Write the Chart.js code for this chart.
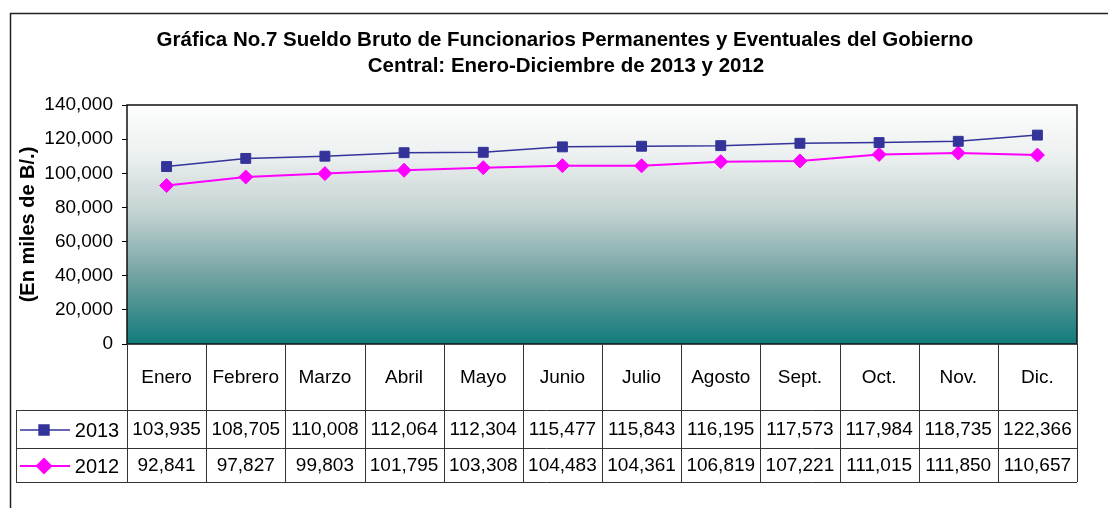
<!DOCTYPE html>
<html>
<head>
<meta charset="utf-8">
<script src="https://cdn.jsdelivr.net/npm/chart.js@4/dist/chart.umd.min.js"></script>
<style>
  html, body { margin: 0; padding: 0; background: #fff; }
  canvas { display: block; }
</style>
</head>
<body>
<canvas id="sueldoChart" width="1108" height="508"></canvas>
<script>
// datos de la grafica
var meses = ['Enero', 'Febrero', 'Marzo', 'Abril', 'Mayo', 'Junio', 'Julio', 'Agosto', 'Sept.', 'Oct.', 'Nov.', 'Dic.'];
var serie2013 = [103935, 108705, 110008, 112064, 112304, 115477, 115843, 116195, 117573, 117984, 118735, 122366];
var serie2012 = [92841, 97827, 99803, 101795, 103308, 104483, 104361, 106819, 107221, 111015, 111850, 110657];
var nombres = ['2013', '2012'];
var titulo = ['Gráfica No.7 Sueldo Bruto de Funcionarios Permanentes y Eventuales del Gobierno',
              'Central: Enero-Diciembre de 2013 y 2012'];
var yMin = 0, yMax = 140000, yPaso = 20000;

var fuente = '"Liberation Sans", Arial, sans-serif';
Chart.defaults.font.family = fuente;
Chart.defaults.color = '#000';

function fmt(v) {
    return Number(v).toLocaleString('en-US');
}

// fondo, marco y titulo
var fondoPlugin = {
    id: 'fondo',
    beforeDraw: function(chart) {
        var ctx = chart.ctx, a = chart.chartArea;
        ctx.save();
        ctx.fillStyle = '#fff';
        ctx.fillRect(0, 0, chart.width, chart.height);
        // marco exterior
        ctx.strokeStyle = '#222';
        ctx.lineWidth = 1.5;
        ctx.beginPath();
        ctx.moveTo(10.5, chart.height);
        ctx.lineTo(10.5, 13.5);
        ctx.lineTo(chart.width, 13.5);
        ctx.stroke();
        // degradado del area
        var g = ctx.createLinearGradient(0, a.top, 0, a.bottom);
        g.addColorStop(0, '#fdfdfd');
        g.addColorStop(0.2, '#eef1f1');
        g.addColorStop(0.45, '#c3d2d2');
        g.addColorStop(0.72, '#71a2a1');
        g.addColorStop(1, '#127b7b');
        ctx.fillStyle = g;
        ctx.fillRect(a.left, a.top, a.right - a.left, a.bottom - a.top);
        ctx.strokeStyle = '#111';
        ctx.lineWidth = 1.5;
        ctx.strokeRect(a.left, a.top, a.right - a.left, a.bottom - a.top);
        // titulo
        ctx.fillStyle = '#000';
        ctx.font = 'bold 20.5px ' + fuente;
        ctx.textAlign = 'center';
        ctx.textBaseline = 'middle';
        ctx.fillText(titulo[0], 565, 40);
        ctx.fillText(titulo[1], 566, 66);
        ctx.restore();
    }
};

// tabla de datos debajo del eje
var tablaPlugin = {
    id: 'tabla',
    afterDraw: function(chart) {
        var ctx = chart.ctx, a = chart.chartArea, x = chart.scales.x;
        var paso = x.getPixelForValue(1) - x.getPixelForValue(0);
        var filas = [410, 448, 482];
        var izq = 16;
        ctx.save();
        ctx.strokeStyle = '#333';
        ctx.lineWidth = 1;
        ctx.beginPath();
        for (var i = 0; i <= meses.length; i++) {
            var bx = Math.round(x.getPixelForValue(0) - paso / 2 + i * paso) + 0.5;
            ctx.moveTo(bx, a.bottom);
            ctx.lineTo(bx, filas[2]);
        }
        filas.forEach(function(fy) {
            ctx.moveTo(izq, fy + 0.5);
            ctx.lineTo(a.right, fy + 0.5);
        });
        ctx.moveTo(izq + 0.5, filas[0]);
        ctx.lineTo(izq + 0.5, filas[2]);
        ctx.stroke();

        var series = [serie2013, serie2012];
        ctx.textAlign = 'center';
        ctx.textBaseline = 'middle';
        series.forEach(function(serie, s) {
            var cy = (filas[s] + filas[s + 1]) / 2 + 1;
            var ds = chart.data.datasets[s];
            // simbolo de leyenda
            ctx.strokeStyle = ds.borderColor;
            ctx.lineWidth = ds.borderWidth;
            ctx.beginPath();
            ctx.moveTo(20, cy);
            ctx.lineTo(70, cy);
            ctx.stroke();
            ctx.fillStyle = ds.pointBackgroundColor;
            Chart.helpers.drawPoint(ctx, {
                pointStyle: ds.pointStyle, radius: 7, rotation: 0, borderWidth: 1
            }, 44, cy);
            ctx.fill();
            ctx.fillStyle = '#000';
            ctx.font = '20px ' + fuente;
            ctx.fillText(nombres[s], 97, cy + 1);
            ctx.font = '19px ' + fuente;
            serie.forEach(function(v, i) {
                ctx.fillText(fmt(v), x.getPixelForValue(i), cy);
            });
        });
        ctx.restore();
    }
};

var ctx = document.getElementById('sueldoChart').getContext('2d');
var chart = new Chart(ctx, {
    type: 'line',
    data: {
        labels: meses,
        datasets: [{
            label: nombres[0],
            data: serie2013,
            borderColor: '#333399',
            backgroundColor: '#333399',
            pointBackgroundColor: '#333399',
            pointBorderColor: '#333399',
            pointStyle: 'rect',
            pointRadius: 7,
            pointBorderWidth: 1,
            borderWidth: 1.5,
            fill: false,
            tension: 0
        }, {
            label: nombres[1],
            data: serie2012,
            borderColor: '#ff00ff',
            backgroundColor: '#ff00ff',
            pointBackgroundColor: '#ff00ff',
            pointBorderColor: '#ff00ff',
            pointStyle: 'rectRot',
            pointRadius: 7,
            pointBorderWidth: 1,
            borderWidth: 2,
            fill: false,
            tension: 0
        }]
    },
    options: {
        responsive: false,
        animation: false,
        events: [],
        layout: { padding: { left: 0, top: 105, right: 31, bottom: 0 } },
        plugins: {
            legend: { display: false },
            title: { display: false },
            tooltip: { enabled: false }
        },
        scales: {
            x: {
                offset: true,
                grid: { display: false },
                border: { display: false },
                ticks: { font: { size: 19 }, padding: 14, maxRotation: 0 },
                afterFit: function(scale) { scale.height = 164; }
            },
            y: {
                min: yMin,
                max: yMax,
                ticks: {
                    stepSize: yPaso,
                    font: { size: 19 },
                    padding: 9,
                    callback: function(v) { return fmt(v); }
                },
                grid: { drawOnChartArea: false, drawTicks: true, tickLength: 5, color: '#000' },
                border: { display: false },
                title: {
                    display: true,
                    text: '(En miles de B/.)',
                    font: { size: 20, weight: 'bold' },
                    padding: { top: 16, bottom: 0 }
                },
                afterFit: function(scale) { scale.width = 127; }
            }
        }
    },
    plugins: [fondoPlugin, tablaPlugin]
});
</script>
</body>
</html>
